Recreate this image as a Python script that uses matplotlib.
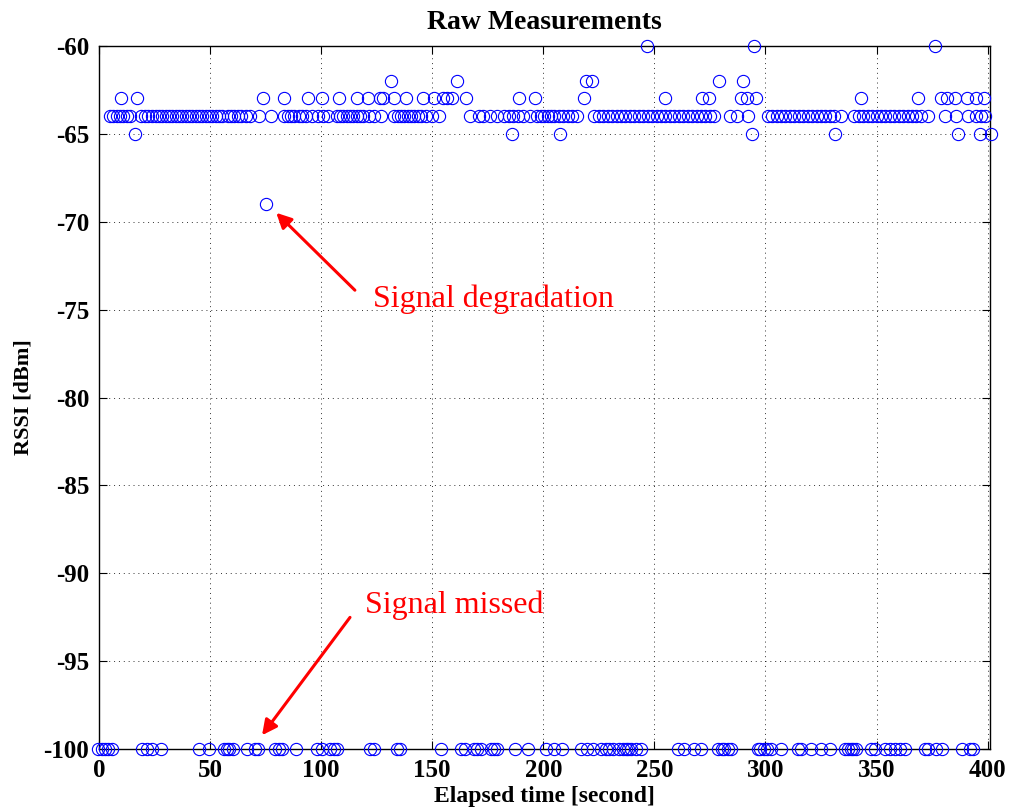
import matplotlib
matplotlib.use("Agg")
import matplotlib.pyplot as plt
import numpy as np

# RSSI readings grouped by level: elapsed time [s] of each sample
t_m60 = [246.7, 294.8, 376.4]
t_m62 = [131.6, 161.2, 219.4, 222.0, 279.3, 289.8]
t_m63 = [9.8, 17.3, 73.9, 83.5, 94.3, 100.6, 108.2, 116.0, 121.3, 126.5, 128.0,
         132.8, 138.1, 145.8, 150.9, 154.8, 156.8, 158.8, 165.2, 188.9, 196.4,
         218.2, 255.0, 271.5, 274.5, 289.1, 291.5, 295.7, 342.8, 368.8, 379.2,
         381.9, 385.3, 390.6, 394.6, 398.4]
t_m64 = [5.0, 6.5, 8.0, 9.5, 11.0, 12.5, 14.0,
         19.0, 20.5, 22.0, 24.0, 25.5, 27.0, 28.5, 30.0, 31.5, 33.0, 34.5, 36.0,
         37.5, 39.0, 40.5, 42.0, 43.5, 45.0, 46.5, 48.0, 49.5, 51.0, 52.5, 54.0,
         55.5, 58.0, 59.5, 61.0, 62.5, 64.0, 66.0, 68.0, 72.0, 77.5,
         83.5, 85.0, 86.5, 88.0, 90.0, 91.5, 93.0, 96.0, 98.5, 101.0, 103.0,
         107.0, 108.5, 110.0, 111.5, 113.0, 114.5, 116.0, 117.5, 119.0, 121.5,
         124.0, 127.0, 133.0, 134.5, 136.0, 137.5, 139.0, 140.5, 142.0, 143.5,
         145.0, 147.0, 150.0, 153.0, 167.0, 171.0, 173.0, 176.0, 179.0, 182.5,
         184.5, 186.5, 188.5, 191.0, 194.0, 197.0, 199.0, 200.5, 202.0, 203.5,
         205.0, 207.0, 209.0, 211.0, 213.0, 215.0, 223.0, 225.0, 227.0, 229.0,
         231.0, 233.0, 235.0, 237.0, 239.0, 241.0, 243.0, 245.0, 247.0, 249.0,
         251.0, 253.0, 255.0, 257.0, 259.0, 261.0, 263.0, 265.0, 267.0, 269.0,
         271.0, 273.0, 275.0, 277.0, 284.0, 287.0, 292.0,
         301.0, 303.0, 305.0, 307.0, 309.0, 311.0, 313.0, 315.0, 317.0, 319.0,
         321.0, 323.0, 325.0, 327.0, 329.0, 331.0, 334.0,
         340.0, 342.0, 344.0, 346.0, 348.0, 350.0, 352.0, 354.0, 356.0, 358.0,
         360.0, 362.0, 364.0, 366.0, 368.0, 370.0, 373.0,
         381.0, 386.0, 391.0, 395.0, 397.0, 399.0]
t_m65 = [16.4, 185.8, 207.7, 293.8, 331.1, 386.6, 396.6, 401.6]
t_m69 = [75.2]
t_m100 = [-0.3, 1.2, 2.7, 4.2, 5.7, 19.3, 21.5, 23.7, 27.8, 44.8, 49.7, 56.4,
          57.6, 58.7, 60.3, 66.6, 70.3, 71.8, 79.4, 80.9, 82.4, 88.8, 98.2,
          100.4, 104.2, 105.7, 107.2, 122.2, 123.7, 134.2, 135.4, 153.8, 163.1,
          164.6, 168.8, 170.3, 171.8, 176.3, 177.8, 179.3, 187.2, 192.9, 201.1,
          204.9, 208.6, 216.9, 219.9, 222.2, 225.9, 228.2, 229.7, 231.2, 234.2,
          235.7, 237.2, 238.3, 239.5, 241.7, 244.0, 260.5, 263.5, 268.0, 271.0,
          278.5, 280.3, 281.5, 283.0, 284.5, 296.6, 297.7, 299.3, 300.8, 302.3,
          306.8, 314.6, 316.1, 320.6, 325.1, 328.9, 335.6, 337.2, 338.4, 339.4,
          340.9, 347.7, 349.5, 353.7, 355.9, 358.2, 360.5, 362.7, 371.7, 373.2,
          377.0, 379.6, 388.3, 392.0, 393.5]

levels = {-60: t_m60, -62: t_m62, -63: t_m63, -64: t_m64,
          -65: t_m65, -69: t_m69, -100: t_m100}

x_ticks = [0, 50, 100, 150, 200, 250, 300, 350, 400]
y_ticks = [-100, -95, -90, -85, -80, -75, -70, -65, -60]

plt.rcParams["font.family"] = ["Liberation Serif", "DejaVu Serif"]
plt.rcParams["axes.unicode_minus"] = False

fig = plt.figure(figsize=(10.10, 8.09), dpi=100)
ax = fig.add_axes([0.098, 0.0738, 0.882, 0.8697])

times = np.concatenate([np.asarray(v, float) for v in levels.values()])
rssi = np.concatenate([np.full(len(v), k, float) for k, v in levels.items()])
ax.plot(times, rssi, linestyle="none", marker="o", markersize=8.8,
        markerfacecolor="none", markeredgecolor=(0, 0, 1), markeredgewidth=0.8,
        clip_on=False, zorder=3)

ax.set_xlim(0, 401)
ax.set_ylim(-100, -60)
ax.set_xticks(x_ticks)
ax.set_yticks(y_ticks)
ax.tick_params(direction="in", length=6, width=0.8, top=True, right=True,
               labelsize=18, pad=7)
for lab in ax.get_xticklabels() + ax.get_yticklabels():
    lab.set_fontweight("bold")
ax.grid(True, linestyle=(0, (1, 4)), color="black", linewidth=0.7, alpha=0.8)
for sp in ax.spines.values():
    sp.set_linewidth(1.0)

ax.set_title("Raw Measurements", fontsize=20, fontweight="bold", pad=12)
ax.set_xlabel("Elapsed time [second]", fontsize=17, fontweight="bold", labelpad=3)
ax.set_ylabel("RSSI [dBm]", fontsize=16, fontweight="bold", labelpad=7)

arrow = dict(arrowstyle="-|>,head_length=0.9,head_width=0.45", color="red",
             lw=2.2, shrinkA=0, shrinkB=0)
ax.annotate("", xy=(79.8, -69.5), xytext=(115.2, -73.9), arrowprops=arrow)
ax.text(123.5, -74.4, "Signal degradation", color="red", fontsize=23,
        va="center", ha="left")
ax.annotate("", xy=(73.4, -99.2), xytext=(113.0, -92.5), arrowprops=arrow)
ax.text(119.8, -91.8, "Signal missed", color="red", fontsize=23,
        va="center", ha="left")

fig.savefig("out.png", dpi=100)
